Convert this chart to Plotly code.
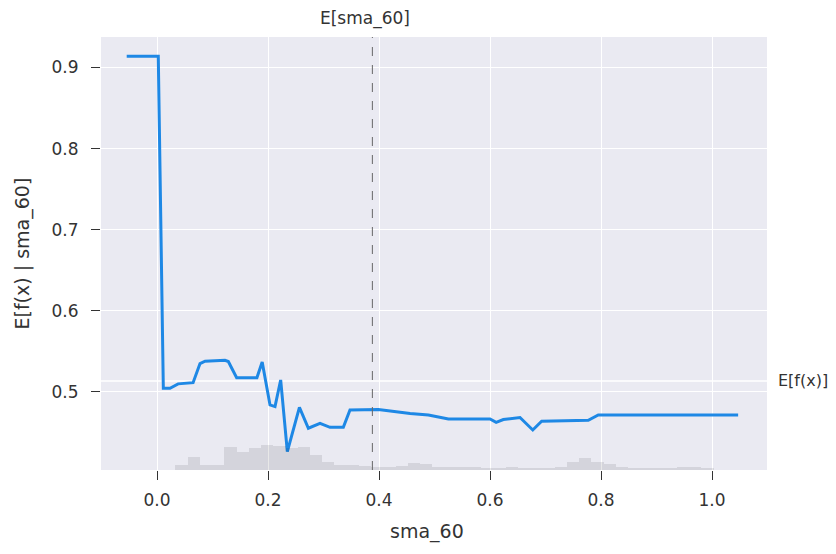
import plotly.graph_objects as go

# ---- data ----
pd_x = [-0.0546, 0.0023, 0.0114, 0.0234, 0.038, 0.065, 0.0775, 0.0865, 0.1225, 0.1285,
        0.1435, 0.1800, 0.1895, 0.196, 0.2036, 0.2126, 0.2228, 0.2348, 0.2566, 0.2727,
        0.2937, 0.3117, 0.3357, 0.3477, 0.3988, 0.456, 0.489, 0.525, 0.600, 0.611,
        0.624, 0.654, 0.677, 0.693, 0.777, 0.795, 1.047]
pd_y = [0.914, 0.914, 0.5046, 0.5046, 0.510, 0.5115, 0.535, 0.538, 0.539, 0.5375,
        0.5176, 0.5176, 0.537, 0.512, 0.484, 0.482, 0.5148, 0.4264, 0.481, 0.4553,
        0.4614, 0.4564, 0.4564, 0.4778, 0.4785, 0.4735, 0.4716, 0.4667, 0.4667, 0.4626,
        0.4660, 0.4685, 0.4531, 0.4640, 0.4650, 0.4716, 0.4716]

hist_start = -0.055
hist_width = 0.02204
hist_counts = [1, 0, 1, 1, 12, 30, 12, 12, 53, 42,
               51, 58, 55, 51, 53, 35, 18, 12, 12, 9,
               7, 7, 9, 16, 14, 7, 7, 7, 7, 5,
               5, 7, 5, 5, 5, 7, 18, 28, 18, 14,
               7, 5, 5, 5, 5, 7, 7, 5, 1, 1]
n_samples = 1000

feature_name = "sma_60"
y_label = "E[f(x) | sma_60]"
feature_mean = 0.388
feature_mean_label = "E[sma_60]"
expected_value = 0.5136
expected_value_label = "E[f(x)]"

x_ticks = [0.0, 0.2, 0.4, 0.6, 0.8, 1.0]
y_ticks = [0.5, 0.6, 0.7, 0.8, 0.9]

# ---- figure ----
FONT = "DejaVu Sans, sans-serif"
TXT = "#333333"

hist_x = [hist_start + (i + 0.5) * hist_width for i in range(len(hist_counts))]

fig = go.Figure()
fig.add_trace(go.Bar(x=hist_x, y=hist_counts, width=hist_width,
                     marker=dict(color="rgba(0,0,0,0.09)", line=dict(width=0)),
                     yaxis="y2", hoverinfo="skip", showlegend=False))
fig.add_trace(go.Scatter(x=pd_x, y=pd_y, mode="lines",
                         line=dict(color="#1E88E5", width=3), showlegend=False))

fig.add_shape(type="line", x0=feature_mean, x1=feature_mean, y0=0, y1=1,
              xref="x", yref="paper", line=dict(color="#666666", width=1, dash="dash"))
fig.add_shape(type="line", x0=0, x1=1, y0=expected_value, y1=expected_value,
              xref="paper", yref="y", layer="below",
              line=dict(color="#FFFFFF", width=1.5))

xrange = [-0.1009, 1.099]
yrange = [0.4038, 0.9376]

axis_common = dict(showgrid=True, gridcolor="white", gridwidth=1.3, zeroline=False,
                   ticks="outside", ticklen=9, tickcolor="#333333", tickwidth=1.2,
                   tickfont=dict(size=17, color=TXT), showline=False, automargin=False)

fig.update_layout(
    width=828, height=546,
    margin=dict(l=93, r=69, t=29, b=84),
    paper_bgcolor="white", plot_bgcolor="#EAEAF2",
    font=dict(family=FONT, color=TXT, size=17),
    bargap=0,
    xaxis=dict(range=xrange, tickvals=x_ticks, ticktext=[f"{v:.1f}" for v in x_ticks],
               ticklabelstandoff=6, **axis_common),
    yaxis=dict(range=yrange, tickvals=y_ticks, ticktext=[f"{v:.1f}" for v in y_ticks],
               ticklabelstandoff=9, **axis_common),
    yaxis2=dict(overlaying="y", range=[0, n_samples], visible=False),
    annotations=[
        dict(text=feature_name, xref="paper", yref="paper", x=0.49, y=0, yshift=-61,
             showarrow=False, xanchor="center", yanchor="middle",
             font=dict(size=19, color=TXT)),
        dict(text=y_label, xref="paper", yref="paper", x=0, y=0.5, xshift=-79,
             showarrow=False, textangle=-90, xanchor="center", yanchor="middle",
             font=dict(size=19, color=TXT)),
        dict(text=feature_mean_label, xref="x", yref="paper", x=feature_mean, y=1,
             yshift=19, xshift=-7, showarrow=False, xanchor="center", yanchor="middle",
             font=dict(size=17, color=TXT)),
        dict(text=expected_value_label, xref="paper", yref="y", x=1, y=expected_value,
             xshift=9, showarrow=False, xanchor="left", yanchor="middle",
             font=dict(size=16, color=TXT)),
    ],
)

fig.write_html("out.html")
